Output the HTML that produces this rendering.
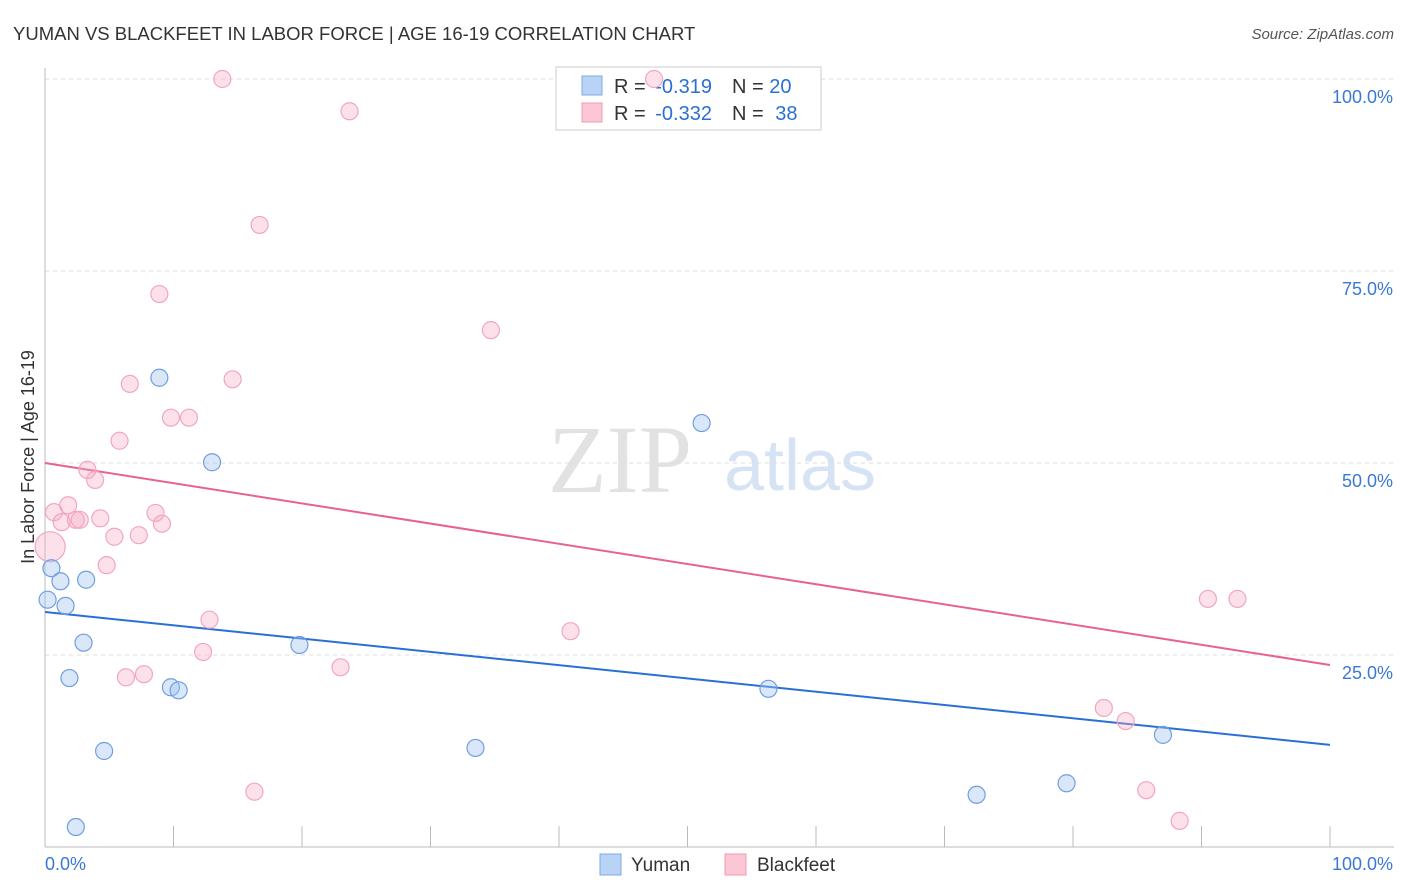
<!DOCTYPE html>
<html><head><meta charset="utf-8"><style>
body{margin:0;background:#fff;font-family:"Liberation Sans",sans-serif;}
#wrap{position:relative;width:1406px;height:892px;overflow:hidden;}
</style></head><body>
<div id="wrap">
<svg id="chart" width="1406" height="892" style="position:absolute;left:0;top:0">
<text x="13" y="40" font-size="18.5" fill="#333">YUMAN VS BLACKFEET IN LABOR FORCE | AGE 16-19 CORRELATION CHART</text>
<text x="1394" y="39" font-size="15" fill="#555" font-style="italic" text-anchor="end">Source: ZipAtlas.com</text>
<text x="620" y="492" font-size="96" fill="#e2e2e2" font-family="Liberation Serif,serif" text-anchor="middle">ZIP</text>
<text x="800" y="490" font-size="72" fill="#d6e3f5" text-anchor="middle">atlas</text>
<text transform="translate(34,457) rotate(-90)" font-size="18" fill="#333" text-anchor="middle">In Labor Force | Age 16-19</text>
<g id="grid"></g><g id="lines"></g>
<g>
<rect x="556" y="67" width="265" height="63" fill="#fff" stroke="#ccc"/>
<rect x="582" y="76" width="20" height="19" fill="#b8d3f5" stroke="#7fa9e4"/>
<rect x="582" y="103" width="20" height="19" fill="#fbc7d5" stroke="#f09ab4"/>
<text x="614" y="93" font-size="20" fill="#333">R = <tspan dx="4" fill="#2a6fd6">-0.319</tspan><tspan dx="20">N = </tspan><tspan fill="#2a6fd6">20</tspan></text>
<text x="614" y="120" font-size="20" fill="#333">R = <tspan dx="4" fill="#2a6fd6">-0.332</tspan><tspan dx="20">N = </tspan><tspan dx="6" fill="#2a6fd6">38</tspan></text>
</g>
<g id="pts"></g>
<g>
<rect x="600" y="854" width="21" height="21" fill="#b8d3f5" stroke="#7fa9e4"/>
<text x="631" y="871" font-size="19" fill="#333">Yuman</text>
<rect x="725" y="854" width="21" height="21" fill="#fbc7d5" stroke="#f09ab4"/>
<text x="757" y="871" font-size="19" fill="#333">Blackfeet</text>
</g>
</svg>
</div>
<script>
const blueX=[0.2,0.5,1.2,1.6,1.9,2.4,3.0,3.2,4.6,8.9,9.8,10.4,13.0,19.8,33.5,51.1,56.3,72.5,79.5,87.0];
const blueY=[32.2,36.3,34.6,31.4,22.0,2.6,26.6,34.8,12.5,61.1,20.8,20.4,50.1,26.3,12.9,55.2,20.6,6.8,8.3,14.6];
const pinkX=[13.8,47.4,23.7,16.7,8.9,34.7,6.6,14.6,9.8,11.2,5.8,3.3,3.9,1.8,0.7,1.3,2.4,2.7,4.3,8.6,9.1,5.4,7.3,0.4,4.8,12.8,12.3,6.3,7.7,23.0,40.9,16.3,90.5,92.8,82.4,84.1,85.7,88.3];
const pinkY=[100,100,95.8,81.0,72.0,67.3,60.3,60.9,55.9,55.9,52.9,49.1,47.8,44.5,43.6,42.3,42.6,42.6,42.8,43.5,42.1,40.4,40.6,39.1,36.7,29.6,25.4,22.1,22.5,23.4,28.1,7.2,32.3,32.3,18.1,16.4,7.4,3.4];
const pinkR=[8.5,8.5,8.5,8.5,8.5,8.5,8.5,8.5,8.5,8.5,8.5,8.5,8.5,8.5,8.5,8.5,8.5,8.5,8.5,8.5,8.5,8.5,8.5,15,8.5,8.5,8.5,8.5,8.5,8.5,8.5,8.5,8.5,8.5,8.5,8.5,8.5,8.5];
const blueTrend=[30.6,13.3];
const pinkTrend=[50.0,23.7];
const yTicks=[25,50,75,100];
const yTickLabels=["25.0%","50.0%","75.0%","100.0%"];
const xTicks=[0,10,20,30,40,50,60,70,80,90,100];

const NS="http://www.w3.org/2000/svg";
const sx=v=>45+v*12.85, sy=v=>847-v*7.68;
function mk(tag,attrs,parent){const e=document.createElementNS(NS,tag);for(const k in attrs)e.setAttribute(k,attrs[k]);parent.appendChild(e);return e;}
const grid=document.getElementById('grid'),lines=document.getElementById('lines'),pts=document.getElementById('pts');
yTicks.forEach((t,i)=>{
 const l=mk('line',{x1:45,x2:1394,y1:sy(t),y2:sy(t),stroke:'#ddd','stroke-dasharray':'4,4'},grid);
 
 
 const tx=mk('text',{x:1393,y:sy(t)+24,'font-size':18,fill:'#3a78d8','text-anchor':'end'},grid);
 tx.textContent=yTickLabels[i];
 
 
});
const ax=mk('line',{x1:45,x2:45,y1:68,y2:847,stroke:'#bbb'},grid);


const bx=mk('line',{x1:45,x2:1394,y1:847,y2:847,stroke:'#bbb'},grid);


xTicks.forEach(t=>{
 const l=mk('line',{x1:sx(t),x2:sx(t),y1:826,y2:847,stroke:'#bbb'},grid);
 
 
});
const xl0=mk('text',{x:45,y:870,'font-size':18,fill:'#3a78d8'},grid);xl0.textContent='0.0%';


const xl1=mk('text',{x:1393,y:870,'font-size':18,fill:'#3a78d8','text-anchor':'end'},grid);xl1.textContent='100.0%';



pinkX.forEach((x,i)=>{
 const c=mk('circle',{cx:sx(x),cy:sy(pinkY[i]),r:pinkR[i],fill:'rgba(247,170,195,0.35)',stroke:'#f2a6be','stroke-width':1.2},pts);
 
 
});
blueX.forEach((x,i)=>{
 const c=mk('circle',{cx:sx(x),cy:sy(blueY[i]),r:8.5,fill:'rgba(160,195,240,0.4)',stroke:'#6f9fe0','stroke-width':1.2},pts);
 
 
});
const bl=mk('line',{x1:sx(0),y1:sy(blueTrend[0]),x2:sx(100),y2:sy(blueTrend[1]),stroke:'#2a6fd6','stroke-width':2},lines);


const pl=mk('line',{x1:sx(0),y1:sy(pinkTrend[0]),x2:sx(100),y2:sy(pinkTrend[1]),stroke:'#e8628f','stroke-width':2},lines);


</script>
</body></html>
